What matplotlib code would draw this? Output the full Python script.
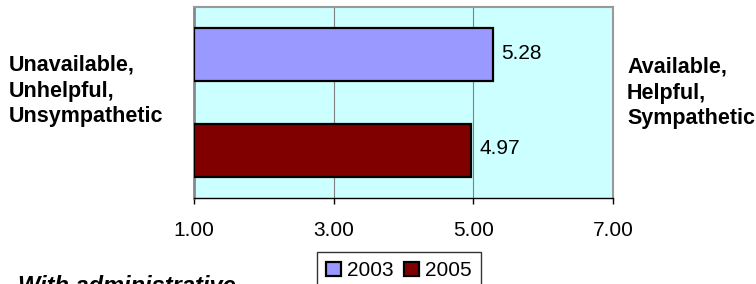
import matplotlib.pyplot as plt

# data
series = ["2003", "2005"]
values = [5.28, 4.97]
colors = ["#9999FF", "#800000"]
xticks = [1.0, 3.0, 5.0, 7.0]
left_label = "Unavailable,\nUnhelpful,\nUnsympathetic"
right_label = "Available,\nHelpful,\nSympathetic"
footer = "With administrative"

plt.rcParams['font.family'] = ['Liberation Sans', 'DejaVu Sans']

fig = plt.figure(figsize=(7.56, 2.84), dpi=100)
ax = fig.add_axes([194 / 756, 1 - 198 / 284, 419 / 756, 191 / 284])
ax.set_facecolor("#CCFFFF")

# first series on top, like Excel
ypos = [1.5 - i for i in range(len(series))]
for y, v, c, name in zip(ypos, values, colors, series):
    ax.barh(y, v - 1, left=1, height=0.555, color=c, edgecolor="black",
            linewidth=1.6, label=name, zorder=3)
    ax.annotate(f"{v:.2f}", (v, y), xytext=(6, 1), textcoords="offset points",
                va="center", ha="left", fontsize=15)

ax.set_xlim(1, 7)
ax.set_ylim(0, 2)
ax.set_xticks(xticks)
ax.set_xticklabels([f"{t:.2f}" for t in xticks], fontsize=15)
ax.set_yticks([])
ax.grid(axis="x", color="#808080", linewidth=0.8, zorder=1)
ax.tick_params(axis="x", length=4.5, width=1, pad=12, color="black")

for side in ["top", "right"]:
    ax.spines[side].set_color("#999999")
    ax.spines[side].set_linewidth(1.5)
ax.spines["left"].set_color("#888888")
ax.spines["left"].set_linewidth(2)
ax.spines["bottom"].set_color("black")
ax.spines["bottom"].set_linewidth(1)

fig.text(9 / 756, 1 - 91 / 284, left_label, ha="left", va="center",
         fontsize=15.5, fontweight="bold", linespacing=1.3)
fig.text(627 / 756, 1 - 93 / 284, right_label, ha="left", va="center",
         fontsize=15.5, fontweight="bold", linespacing=1.3)

leg = fig.legend(loc="upper center", bbox_to_anchor=(399 / 756, 1 - 252 / 284),
                 ncol=2, fontsize=15, frameon=True, fancybox=False,
                 handlelength=0.7, handleheight=0.7, handletextpad=0.3,
                 columnspacing=0.5, borderpad=0.45, borderaxespad=0)
leg.get_frame().set_edgecolor("black")
leg.get_frame().set_linewidth(1)

fig.text(18 / 756, 1 - 275 / 284, footer, ha="left", va="top",
         fontsize=17, fontweight="bold", fontstyle="italic")

fig.savefig("out.png", dpi=100)
